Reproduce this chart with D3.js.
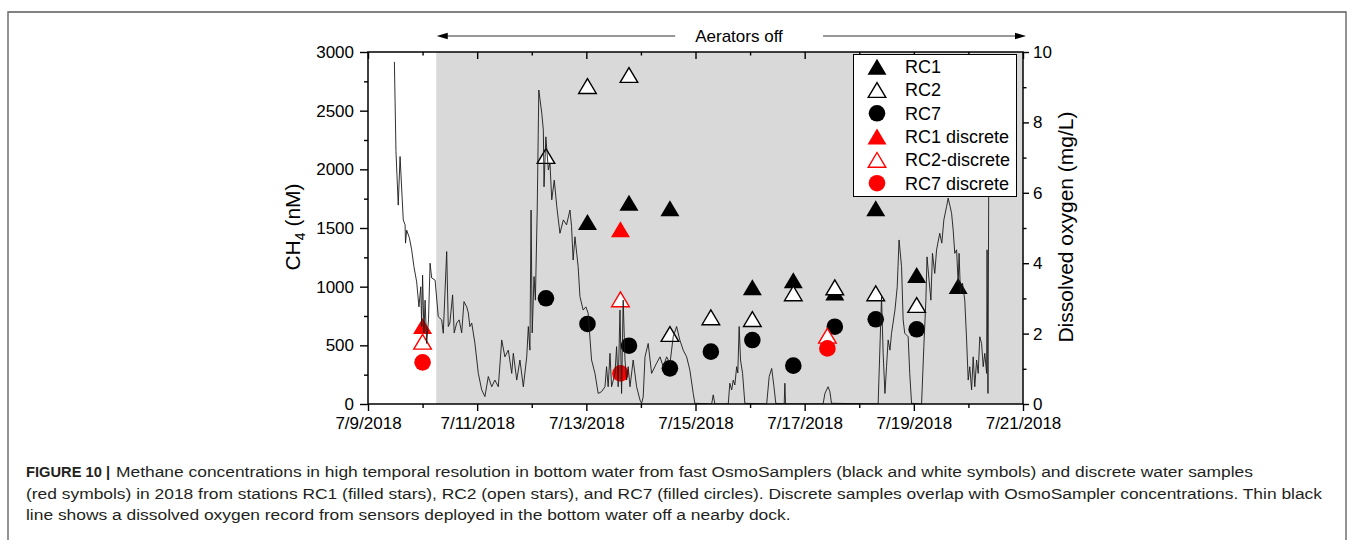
<!DOCTYPE html>
<html>
<head>
<meta charset="utf-8">
<script src="https://cdn.jsdelivr.net/npm/d3@7"></script>
<style>
  html, body { margin: 0; padding: 0; background: #fff; }
  svg { display: block; }
  text { font-family: "Liberation Sans", Arial, Helvetica, sans-serif; }
</style>
</head>
<body>
<svg id="chart" width="1354" height="540"></svg>
<script>
// ---------------- data ----------------
// OsmoSampler methane (nM), sampled every ~18 h
const rc1Times  = ["2018-07-13T00:30","2018-07-13T18:45","2018-07-14T12:45","2018-07-16T01:00","2018-07-16T19:00","2018-07-17T13:15","2018-07-18T07:15","2018-07-19T01:15","2018-07-19T19:30"];
const rc1Values = [1551, 1716, 1668, 994, 1054, 950, 1668, 1099, 1006];

const rc2Times  = ["2018-07-12T06:15","2018-07-13T00:30","2018-07-13T18:45","2018-07-14T12:45","2018-07-15T06:45","2018-07-16T01:00","2018-07-16T19:00","2018-07-17T13:15","2018-07-18T07:15","2018-07-19T01:15"];
const rc2Values = [2114, 2710, 2804, 597, 739, 724, 943, 994, 943, 844];

const rc7Times  = ["2018-07-12T06:15","2018-07-13T00:30","2018-07-13T18:45","2018-07-14T12:45","2018-07-15T06:45","2018-07-16T01:00","2018-07-16T19:00","2018-07-17T13:15","2018-07-18T07:15","2018-07-19T01:15"];
const rc7Values = [901, 682, 497, 304, 446, 545, 327, 659, 722, 637];

// Discrete water samples (nM)
const rc1DiscreteTimes  = ["2018-07-10T00:00","2018-07-13T15:00"];
const rc1DiscreteValues = [665, 1489];
const rc2DiscreteTimes  = ["2018-07-10T00:00","2018-07-13T15:00","2018-07-17T10:00"];
const rc2DiscreteValues = [531, 892, 582];
const rc7DiscreteTimes  = ["2018-07-10T00:00","2018-07-13T15:00","2018-07-17T10:00"];
const rc7DiscreteValues = [355, 261, 474];

// Dock sensor dissolved oxygen: [hours after 7/9/2018 00:00, mg/L]
const oxygenRecord = [
  [11.6,9.72],[12.3,7.17],[13.3,5.65],[14.1,7.03],[15.5,5.23],[16.3,5.09],[16.5,4.57],[17.0,4.94],
  [18.2,4.72],[19.2,4.38],[20.2,3.90],[21.4,3.47],[22.4,2.76],[23.2,3.33],[23.6,2.20],[24.0,3.66],
  [24.6,2.02],[25.1,2.95],[25.8,1.72],[26.6,2.39],[27.3,4.00],[28.0,3.58],[29.5,3.52],[30.9,2.48],
  [32.4,2.39],[33.1,2.01],[34.6,4.33],[35.3,2.20],[36.0,2.30],[37.2,3.10],[37.9,2.02],[39.0,2.30],
  [40.1,2.39],[41.2,2.02],[42.2,2.91],[43.4,2.76],[44.1,2.59],[44.8,2.20],[45.6,2.30],[47.0,1.73],
  [48.5,0.87],[50.0,0.40],[51.4,0.21],[52.9,0.78],[54.4,0.49],[55.8,0.68],[57.3,0.49],[58.8,1.82],
  [60.2,1.34],[61.7,1.53],[63.2,0.87],[63.9,1.44],[65.4,0.68],[66.8,1.25],[68.3,0.49],[69.8,1.34],
  [70.5,2.20],[71.2,1.53],[71.7,5.51],[72.2,2.02],[73.0,3.62],[73.6,2.95],[74.4,5.51],[75.1,8.92],
  [76.4,8.26],[77.1,7.78],[77.4,6.17],[78.2,7.59],[79.3,6.65],[80.0,6.85],[80.8,5.80],[81.9,6.36],
  [83.0,5.61],[83.7,5.23],[84.4,4.85],[85.9,5.23],[87.3,5.09],[88.8,5.51],[89.5,5.04],[90.2,4.09],
  [91.0,4.75],[92.4,3.90],[93.2,3.05],[94.6,2.67],[95.8,2.76],[96.8,2.58],[98.3,1.25],[99.8,0.87],
  [101.2,0.30],[102.7,0.35],[104.2,0.49],[104.9,1.06],[105.6,0.49],[106.4,1.44],[107.1,0.49],[108.6,0.87],
  [109.3,1.63],[110.0,0.49],[110.8,2.67],[111.5,0.30],[112.2,2.95],[113.0,1.25],[113.7,0.68],[114.4,1.06],
  [115.2,0.49],[116.6,1.25],[118.1,0.49],[119.6,0.11],[120.3,0.02],[121.0,0.20],[121.8,1.34],[123.2,1.72],
  [124.7,0.87],[126.9,1.16],[128.4,1.34],[129.8,1.06],[131.3,1.34],[132.8,1.16],[134.2,1.91],[135.7,2.20],
  [137.1,1.82],[138.6,1.53],[140.1,1.34],[141.5,0.97],[143.0,0.30],[143.7,0.02],[151.1,0.00],[151.8,0.26],
  [152.5,0.00],[158.4,0.00],[159.1,0.59],[159.9,0.40],[160.6,0.68],[161.3,0.54],[162.1,1.06],[162.6,0.88],
  [163.2,2.20],[163.8,1.25],[164.7,0.87],[165.7,0.02],[175.3,0.00],[176.4,0.78],[177.5,1.01],[178.5,0.49],
  [179.3,0.02],[183.0,0.00],[183.3,0.59],[183.6,0.00],[200.1,0.00],[200.9,0.30],[202.3,0.49],[203.1,0.35],
  [203.8,0.02],[224.3,0.00],[225.8,3.05],[226.5,1.44],[227.3,0.30],[228.0,1.06],[228.7,1.82],[229.5,1.53],
  [230.2,2.01],[231.7,2.67],[232.7,3.33],[233.5,4.66],[234.6,3.90],[235.3,2.39],[236.0,2.01],[237.5,1.91],
  [238.2,0.87],[239.0,0.02],[243.4,0.00],[244.4,1.63],[245.3,2.95],[245.8,4.18],[246.7,3.52],[247.5,2.95],
  [248.2,4.28],[249.2,3.71],[250.0,4.38],[251.4,4.85],[252.3,4.57],[253.2,5.23],[254.4,5.61],[255.1,5.85],
  [255.8,5.65],[256.6,5.42],[257.3,4.94],[258.0,4.28],[258.8,4.38],[259.5,3.43],[259.9,4.28],[260.5,3.14],
  [261.4,3.43],[262.4,2.95],[263.2,1.82],[263.9,0.68],[264.6,1.06],[265.4,0.40],[266.1,1.34],[266.8,0.49],
  [267.6,1.25],[268.3,0.87],[269.0,1.91],[269.8,1.72],[270.5,1.06],[271.2,1.44],[272.0,0.87],[272.2,4.38],
  [272.6,0.30],[273.1,9.50]
];

const aeratorsOffAt = "2018-07-10T06:00";
const xTickLabels   = ["7/9/2018","7/11/2018","7/13/2018","7/15/2018","7/17/2018","7/19/2018","7/21/2018"];
const ch4Ticks      = [0, 500, 1000, 1500, 2000, 2500, 3000];
const doTicks       = [0, 2, 4, 6, 8, 10];

const legendLabels  = ["RC1", "RC2", "RC7", "RC1 discrete", "RC2-discrete", "RC7 discrete"];

const captionHead = "FIGURE 10 |";
const captionLines = [
  "Methane concentrations in high temporal resolution in bottom water from fast OsmoSamplers (black and white symbols) and discrete water samples",
  "(red symbols) in 2018 from stations RC1 (filled stars), RC2 (open stars), and RC7 (filled circles). Discrete samples overlap with OsmoSampler concentrations. Thin black",
  "line shows a dissolved oxygen record from sensors deployed in the bottom water off a nearby dock."
];

// ---------------- layout ----------------
const svg = d3.select("#chart");
const plot = { left: 368, right: 1023, top: 52, bottom: 404 };
const parseTime = d3.timeParse("%Y-%m-%dT%H:%M");
const parseTick = d3.timeParse("%m/%d/%Y");
const fmtTick = d3.timeFormat("%-m/%-d/%Y");
const recordStart = new Date(2018, 6, 9);

const tickDates = xTickLabels.map(parseTick);
const x = d3.scaleTime().domain([tickDates[0], tickDates[tickDates.length - 1]]).range([plot.left, plot.right]);
const yCH4 = d3.scaleLinear().domain([0, 3000]).range([plot.bottom, plot.top]);
const yDO = d3.scaleLinear().domain([0, 10]).range([plot.bottom, plot.top]);

// figure frame
svg.append("rect").attr("x", 0).attr("y", 0).attr("width", 1354).attr("height", 540).attr("fill", "#fff");
svg.append("path").attr("d", "M8,560 L8,12 L1346,12 L1346,560")
  .attr("fill", "none").attr("stroke", "#5a5a5a").attr("stroke-width", 1.3);

// plot background + aerators-off shading
svg.append("rect").attr("x", plot.left).attr("y", plot.top)
  .attr("width", plot.right - plot.left).attr("height", plot.bottom - plot.top).attr("fill", "#fff");
const offX = x(parseTime(aeratorsOffAt));
svg.append("rect").attr("x", offX).attr("y", plot.top)
  .attr("width", plot.right - offX).attr("height", plot.bottom - plot.top).attr("fill", "#d9d9d9");

svg.append("clipPath").attr("id", "plotClip").append("rect")
  .attr("x", plot.left).attr("y", plot.top).attr("width", plot.right - plot.left).attr("height", plot.bottom - plot.top);

// ---------------- symbols ----------------
const triFilled = "M0,-8 L9.5,8 L-9.5,8 Z";
const triOpen = "M0,-7.4 L8.8,7.4 L-8.8,7.4 Z";

function series(times, values) {
  return times.map((t, i) => ({ t: parseTime(t), v: values[i] }));
}

const marks = svg.append("g");
function drawTriangles(data, fill, stroke, path) {
  marks.append("g").selectAll("path").data(data).join("path")
    .attr("d", path)
    .attr("transform", d => `translate(${x(d.t)},${yCH4(d.v)})`)
    .attr("fill", fill)
    .attr("stroke", stroke)
    .attr("stroke-width", stroke === "none" ? 0 : 1.4)
    .attr("stroke-linejoin", "miter");
}
function drawCircles(data, fill) {
  marks.append("g").selectAll("circle").data(data).join("circle")
    .attr("cx", d => x(d.t)).attr("cy", d => yCH4(d.v)).attr("r", 8.3).attr("fill", fill);
}

drawTriangles(series(rc1Times, rc1Values), "#000", "none", triFilled);
drawTriangles(series(rc2Times, rc2Values), "#fff", "#000", triOpen);
drawCircles(series(rc7Times, rc7Values), "#000");
drawTriangles(series(rc1DiscreteTimes, rc1DiscreteValues), "#ff0000", "none", triFilled);
drawTriangles(series(rc2DiscreteTimes, rc2DiscreteValues), "#fff", "#ff0000", triOpen);
drawCircles(series(rc7DiscreteTimes, rc7DiscreteValues), "#ff0000");

// ---------------- dissolved oxygen trace ----------------
const doLine = d3.line()
  .x(d => x(d3.timeMinute.offset(recordStart, Math.round(d[0] * 60))))
  .y(d => yDO(d[1]));
svg.append("path").datum(oxygenRecord)
  .attr("clip-path", "url(#plotClip)")
  .attr("d", doLine)
  .attr("fill", "none").attr("stroke", "#1a1a1a").attr("stroke-width", 0.9)
  .attr("stroke-linejoin", "round");

// ---------------- axes ----------------
function styleAxis(g, withText) {
  g.attr("font-family", null).attr("font-size", null);
  g.select(".domain").remove();
  g.selectAll(".tick line").attr("stroke", "#000").attr("stroke-width", 1.4);
  if (withText) g.selectAll(".tick text").attr("font-size", 17).attr("fill", "#000");
  else g.selectAll(".tick text").remove();
}
const dayTicks = d3.timeDay.range(tickDates[0], d3.timeDay.offset(tickDates[tickDates.length - 1], 1));
const minorDays = dayTicks.filter(d => !tickDates.some(t => +t === +d));
const minorCH4 = d3.range(250, 3000, 500);
const minorDO = d3.range(1, 10, 2);
const plainNum = d3.format("d");

// bottom
svg.append("g").attr("transform", `translate(0,${plot.bottom})`)
  .call(d3.axisBottom(x).tickValues(tickDates).tickFormat(fmtTick).tickSize(7).tickSizeOuter(0).tickPadding(6))
  .call(g => styleAxis(g, true));
svg.append("g").attr("transform", `translate(0,${plot.bottom})`)
  .call(d3.axisBottom(x).tickValues(minorDays).tickSize(4).tickSizeOuter(0))
  .call(g => styleAxis(g, false));
// top (ticks point inward)
svg.append("g").attr("transform", `translate(0,${plot.top})`)
  .call(d3.axisTop(x).tickValues(tickDates).tickSize(-7).tickSizeOuter(0))
  .call(g => styleAxis(g, false));
svg.append("g").attr("transform", `translate(0,${plot.top})`)
  .call(d3.axisTop(x).tickValues(minorDays).tickSize(-3.5).tickSizeOuter(0))
  .call(g => styleAxis(g, false));
// left
svg.append("g").attr("transform", `translate(${plot.left},0)`)
  .call(d3.axisLeft(yCH4).tickValues(ch4Ticks).tickFormat(plainNum).tickSize(8).tickSizeOuter(0).tickPadding(6))
  .call(g => styleAxis(g, true));
svg.append("g").attr("transform", `translate(${plot.left},0)`)
  .call(d3.axisLeft(yCH4).tickValues(minorCH4).tickSize(4).tickSizeOuter(0))
  .call(g => styleAxis(g, false));
// right
svg.append("g").attr("transform", `translate(${plot.right},0)`)
  .call(d3.axisRight(yDO).tickValues(doTicks).tickFormat(plainNum).tickSize(6).tickSizeOuter(0).tickPadding(4))
  .call(g => styleAxis(g, true));
svg.append("g").attr("transform", `translate(${plot.right},0)`)
  .call(d3.axisRight(yDO).tickValues(minorDO).tickSize(3.5).tickSizeOuter(0))
  .call(g => styleAxis(g, false));

// plot box
svg.append("rect").attr("x", plot.left).attr("y", plot.top)
  .attr("width", plot.right - plot.left).attr("height", plot.bottom - plot.top)
  .attr("fill", "none").attr("stroke", "#000").attr("stroke-width", 1.5);

// axis titles
const leftTitle = svg.append("text")
  .attr("transform", `translate(300,227) rotate(-90)`)
  .attr("text-anchor", "middle").attr("font-size", 21).attr("fill", "#000");
leftTitle.append("tspan").text("CH");
leftTitle.append("tspan").attr("font-size", 14).attr("dy", 5).text("4");
leftTitle.append("tspan").attr("dy", -5).text(" (nM)");

svg.append("text")
  .attr("transform", `translate(1073,227) rotate(-90)`)
  .attr("text-anchor", "middle").attr("font-size", 21).attr("fill", "#000")
  .text("Dissolved oxygen (mg/L)");

// ---------------- aerators-off annotation ----------------
const arrowY = 36;
const arrowL = offX + 0.5, arrowR = plot.right + 3;
const annot = svg.append("g");
const label = annot.append("text").attr("x", 739).attr("y", arrowY + 6)
  .attr("text-anchor", "middle").attr("font-size", 17).attr("fill", "#000").text("Aerators off");
const lb = label.node().getBBox();
annot.append("line").attr("x1", arrowL + 8).attr("x2", lb.x - 20).attr("y1", arrowY).attr("y2", arrowY)
  .attr("stroke", "#333").attr("stroke-width", 1);
annot.append("line").attr("x1", lb.x + lb.width + 40).attr("x2", arrowR - 8).attr("y1", arrowY).attr("y2", arrowY)
  .attr("stroke", "#333").attr("stroke-width", 1);
annot.append("path").attr("d", `M${arrowL},${arrowY} l11,-3.2 l0,6.4 Z`).attr("fill", "#000");
annot.append("path").attr("d", `M${arrowR},${arrowY} l-11,-3.2 l0,6.4 Z`).attr("fill", "#000");

// ---------------- legend ----------------
const legend = svg.append("g");
legend.append("rect").attr("x", 853.5).attr("y", 54.5).attr("width", 163).attr("height", 142)
  .attr("fill", "#fff").attr("stroke", "#000").attr("stroke-width", 1);
const legendStyles = [
  { shape: "tri", fill: "#000", stroke: "none" },
  { shape: "triOpen", fill: "#fff", stroke: "#000" },
  { shape: "circle", fill: "#000" },
  { shape: "tri", fill: "#ff0000", stroke: "none" },
  { shape: "triOpen", fill: "#fff", stroke: "#ff0000" },
  { shape: "circle", fill: "#ff0000" }
];
legendLabels.forEach((name, i) => {
  const cy = 66.7 + i * 23.3;
  const s = legendStyles[i];
  if (s.shape === "circle") {
    legend.append("circle").attr("cx", 877).attr("cy", cy).attr("r", 8.3).attr("fill", s.fill);
  } else {
    legend.append("path").attr("d", s.shape === "tri" ? triFilled : triOpen)
      .attr("transform", `translate(877,${cy})`)
      .attr("fill", s.fill).attr("stroke", s.stroke).attr("stroke-width", s.stroke === "none" ? 0 : 1.4);
  }
  legend.append("text").attr("x", 905).attr("y", cy + 6.3).attr("font-size", 18).attr("fill", "#000").text(name);
});

// ---------------- caption ----------------
const cap = svg.append("g").attr("fill", "#231f20");
const capBaselines = [477.5, 499, 520.5];
const capTexts = captionLines.map((line, i) =>
  cap.append("text").attr("x", 0).attr("y", capBaselines[i]).attr("font-size", 15.5).text(line));
const line2Width = capTexts[1].node().getComputedTextLength();
const sx = 1297 / line2Width;
// bold figure label set narrow, body text of line 1 follows it
const headWidth = 84;
cap.append("text").attr("x", 0).attr("y", capBaselines[0]).attr("font-size", 15.5)
  .attr("font-weight", "bold").attr("textLength", headWidth / sx).attr("lengthAdjust", "spacingAndGlyphs")
  .text(captionHead);
capTexts[0].attr("x", (headWidth + 6) / sx);
cap.attr("transform", `translate(26,0) scale(${sx},1)`);
</script>
</body>
</html>
